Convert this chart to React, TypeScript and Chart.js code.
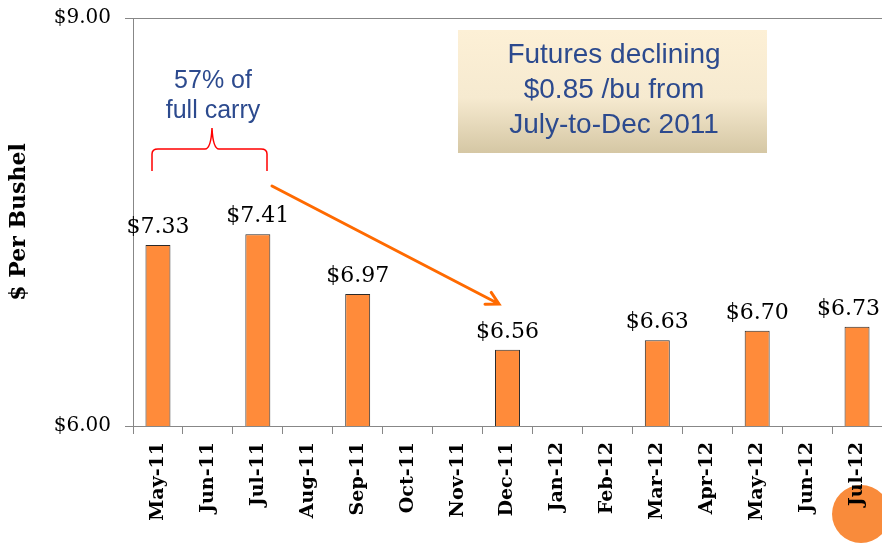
import { useEffect, useRef } from "react";
import { Chart, registerables } from "chart.js";

Chart.register(...registerables);

const categories = [
  "May-11", "Jun-11", "Jul-11", "Aug-11", "Sep-11", "Oct-11", "Nov-11", "Dec-11",
  "Jan-12", "Feb-12", "Mar-12", "Apr-12", "May-12", "Jun-12", "Jul-12",
];
const prices: (number | null)[] = [
  7.33, null, 7.41, 6.0, 6.97, null, null, 6.56, null, null, 6.63, null, 6.7, null, 6.73,
];
const yTicks = [6, 9];
const yMin = 6;
const yMax = 9;
const yTitle = "$ Per Bushel";
const boxLines = ["Futures declining", "$0.85 /bu from", "July-to-Dec 2011"];
const carryLines = ["57% of", "full carry"];

const AXIS_GRAY = "#878787";
const SERIF = "'DejaVu Serif', 'Liberation Serif', serif";
const SANS = "'Liberation Sans', Arial, sans-serif";
const NAVY = "#2C4A8E";

const decor = {
  id: "decor",
  beforeDraw(chart: any) {
    const ctx = chart.ctx as CanvasRenderingContext2D;
    ctx.save();
    ctx.fillStyle = "#F98B3B";
    ctx.beginPath();
    ctx.arc(861, 514, 29, 0, Math.PI * 2);
    ctx.fill();
    ctx.restore();
  },
  afterDatasetsDraw(chart: any) {
    const ctx = chart.ctx as CanvasRenderingContext2D;
    const meta = chart.getDatasetMeta(0);
    ctx.save();
    ctx.font = `22px ${SERIF}`;
    ctx.fillStyle = "#000";
    ctx.textAlign = "center";
    ctx.textBaseline = "alphabetic";
    meta.data.forEach((bar: any, i: number) => {
      const v = prices[i];
      if (v == null || v <= yMin) return;
      const txt = "$" + v.toFixed(2);
      const w = ctx.measureText(txt).width;
      const x = Math.min(bar.x, chart.width - 2 - w / 2);
      ctx.fillText(txt, x, bar.y - 12);
    });
    ctx.restore();
  },
  afterDraw(chart: any) {
    const ctx = chart.ctx as CanvasRenderingContext2D;
    ctx.save();
    // text box
    const g = ctx.createLinearGradient(0, 30, 0, 153);
    g.addColorStop(0, "#FDF0D6");
    g.addColorStop(0.55, "#F6EAD0");
    g.addColorStop(1, "#D5C7A4");
    ctx.fillStyle = g;
    ctx.fillRect(458, 30, 309, 123);
    ctx.fillStyle = NAVY;
    ctx.font = `28px ${SANS}`;
    ctx.textAlign = "center";
    ctx.textBaseline = "alphabetic";
    boxLines.forEach((t, i) => ctx.fillText(t, 614, 63 + i * 35));

    // carry text
    ctx.font = `25px ${SANS}`;
    carryLines.forEach((t, i) => ctx.fillText(t, 213, 88 + i * 30));

    // brace
    ctx.strokeStyle = "#FF0000";
    ctx.lineWidth = 1.5;
    ctx.beginPath();
    ctx.moveTo(152, 171);
    ctx.lineTo(152, 154);
    ctx.quadraticCurveTo(152, 149, 158, 149);
    ctx.lineTo(205, 149);
    ctx.quadraticCurveTo(211, 149, 212, 128);
    ctx.quadraticCurveTo(213, 149, 219, 149);
    ctx.lineTo(261, 149);
    ctx.quadraticCurveTo(267, 149, 267, 154);
    ctx.lineTo(267, 171);
    ctx.stroke();

    // arrow
    const x0 = 272, y0 = 186, x1 = 499, y1 = 304;
    ctx.strokeStyle = "#FF6A00";
    ctx.lineWidth = 3;
    ctx.lineCap = "round";
    ctx.beginPath();
    ctx.moveTo(x0, y0);
    ctx.lineTo(x1, y1);
    const ang = Math.atan2(y1 - y0, x1 - x0);
    const L = 14;
    ctx.moveTo(x1 - L * Math.cos(ang - 0.5), y1 - L * Math.sin(ang - 0.5));
    ctx.lineTo(x1, y1);
    ctx.lineTo(x1 - L * Math.cos(ang + 0.5), y1 - L * Math.sin(ang + 0.5));
    ctx.stroke();
    ctx.restore();
  },
};

export default function App() {
  const ref = useRef<HTMLCanvasElement | null>(null);
  useEffect(() => {
    if (!ref.current) return;
    const chart = new Chart(ref.current, {
      type: "bar",
      data: {
        labels: categories,
        datasets: [
          {
            data: prices as any,
            backgroundColor: "#FF8B3A",
            borderColor: "#2A2A2A",
            borderWidth: 1,
            barPercentage: 0.5,
            categoryPercentage: 1,
          },
        ],
      },
      options: {
        responsive: false,
        animation: false,
        layout: { padding: { top: 18, left: 0, right: 0, bottom: 0 } },
        plugins: { legend: { display: false }, tooltip: { enabled: false } },
        scales: {
          x: {
            offset: true,
            grid: {
              display: true,
              drawOnChartArea: false,
              drawTicks: true,
              tickLength: 8,
              color: AXIS_GRAY,
              offset: true,
            },
            border: { display: true, color: AXIS_GRAY },
            ticks: {
              autoSkip: false,
              maxRotation: 90,
              minRotation: 90,
              padding: 8,
              color: "#000",
              font: { family: SERIF, size: 19, weight: "bold" },
            },
            afterFit(scale: any) {
              scale.height = 117;
              scale.paddingLeft = 0;
              scale.paddingRight = 0;
            },
          },
          y: {
            min: yMin,
            max: yMax,
            afterBuildTicks(scale: any) {
              scale.ticks = yTicks.map((v) => ({ value: v }));
            },
            grid: {
              display: true,
              drawOnChartArea: true,
              drawTicks: true,
              tickLength: 8,
              color: AXIS_GRAY,
            },
            border: { display: true, color: AXIS_GRAY },
            ticks: {
              padding: 14,
              color: "#000",
              font: { family: SERIF, size: 20 },
              callback: (v: any) => "$" + Number(v).toFixed(2),
            },
            title: {
              display: true,
              text: yTitle,
              color: "#000",
              font: { family: SERIF, size: 22, weight: "bold" },
              padding: { top: 6, bottom: 0 },
            },
            afterFit(scale: any) {
              scale.width = 133;
              scale.paddingTop = 0;
              scale.paddingBottom = 0;
            },
          },
        },
      },
      plugins: [decor],
    });
    return () => chart.destroy();
  }, []);
  return (
    <div style={{ position: "absolute", left: 0, top: 0, width: 882, height: 543 }}>
      <canvas ref={ref} width={882} height={543} style={{ display: "block" }} />
    </div>
  );
}
